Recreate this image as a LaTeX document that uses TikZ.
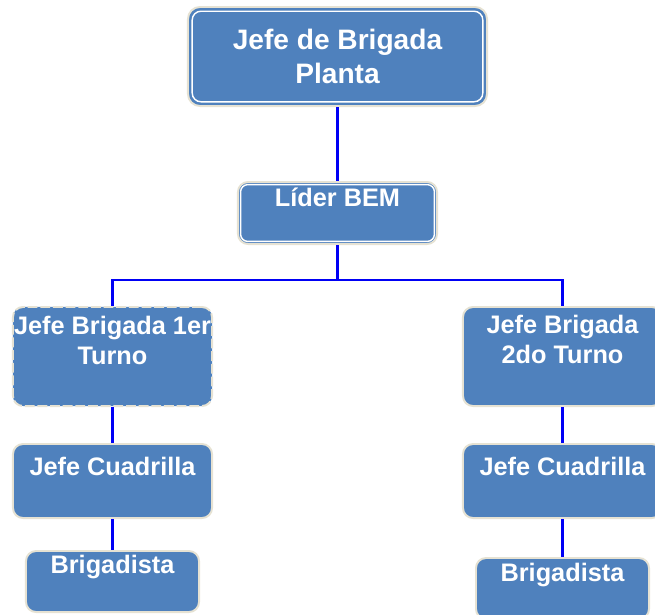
\documentclass[tikz,border=0pt]{standalone}
\usepackage{fontspec}
\setmainfont{Liberation Sans}
\definecolor{boxblue}{HTML}{4F81BD}
\definecolor{rim}{HTML}{E6E2D3}
\definecolor{wire}{HTML}{0000F5}

\begin{document}
\begin{tikzpicture}[x=0.025cm, y=-0.025cm,
		box/.style={rectangle, rounded corners=0.25cm, fill=boxblue, draw=rim, line width=1.4pt,
			text=white, font=\bfseries\fontsize{18}{21}\selectfont, align=center, inner xsep=0pt, inner ysep=0pt},
		wide/.style={minimum width=4.975cm},
		link/.style={wire, line width=1.5pt},
		inner line/.style={white, line width=1pt, rounded corners=0.2cm}]
		\clip (0,0) rectangle (655,614);

		% boxes
		\node[box, minimum width=7.475cm, minimum height=2.475cm, rounded corners=0.3cm, font=\bfseries\fontsize{20}{24}\selectfont] at (337.5,56.5)(top){Jefe de Brigada\\Planta};
		\node[box, wide, text height=0.6cm, text depth=0.95cm] at (337.5,213)(lider){L\'ider BEM};

		\node[box, wide, dash pattern=on 7pt off 2pt, text height=1.425cm, text depth=1.05cm] at (112.5,356.5)(turno1){Jefe Brigada 1er\\Turno};
		\node[box, wide, text height=1.4cm, text depth=1.075cm] at (562.5,356.5)(turno2){Jefe Brigada\\2do Turno};

		\node[box, wide, text height=0.775cm, text depth=1.075cm] at (112.5,481)(cuad1){Jefe Cuadrilla};
		\node[box, wide, text height=0.775cm, text depth=1.075cm] at (562.5,481)(cuad2){Jefe Cuadrilla};

		\node[box, minimum width=4.325cm, text height=0.55cm, text depth=0.975cm] at (112.5,581.5)(brig1){Brigadista};
		\node[box, minimum width=4.325cm, text height=0.575cm, text depth=0.95cm] at (562.5,588.5)(brig2){Brigadista};

		% white inner rims
		\draw[inner line, rounded corners=0.22cm] ([shift={(0.13cm,-0.13cm)}]top.north west) rectangle ([shift={(-0.13cm,0.13cm)}]top.south east);
		\draw[inner line, rounded corners=0.18cm] ([shift={(0.09cm,-0.09cm)}]lider.north west) rectangle ([shift={(-0.09cm,0.09cm)}]lider.south east);

		% connectors
		\coordinate (bus) at (337.5,280);
		\draw[link] (top) -- (lider);
		\draw[link] (lider) -- (bus) -| (turno1);
		\draw[link] (bus) -| (turno2);
		\draw[link] (turno1) -- (cuad1);
		\draw[link] (cuad1) -- (brig1);
		\draw[link] (turno2) -- (cuad2);
		\draw[link] (cuad2) -- (brig2);
	\end{tikzpicture}
\end{document}
